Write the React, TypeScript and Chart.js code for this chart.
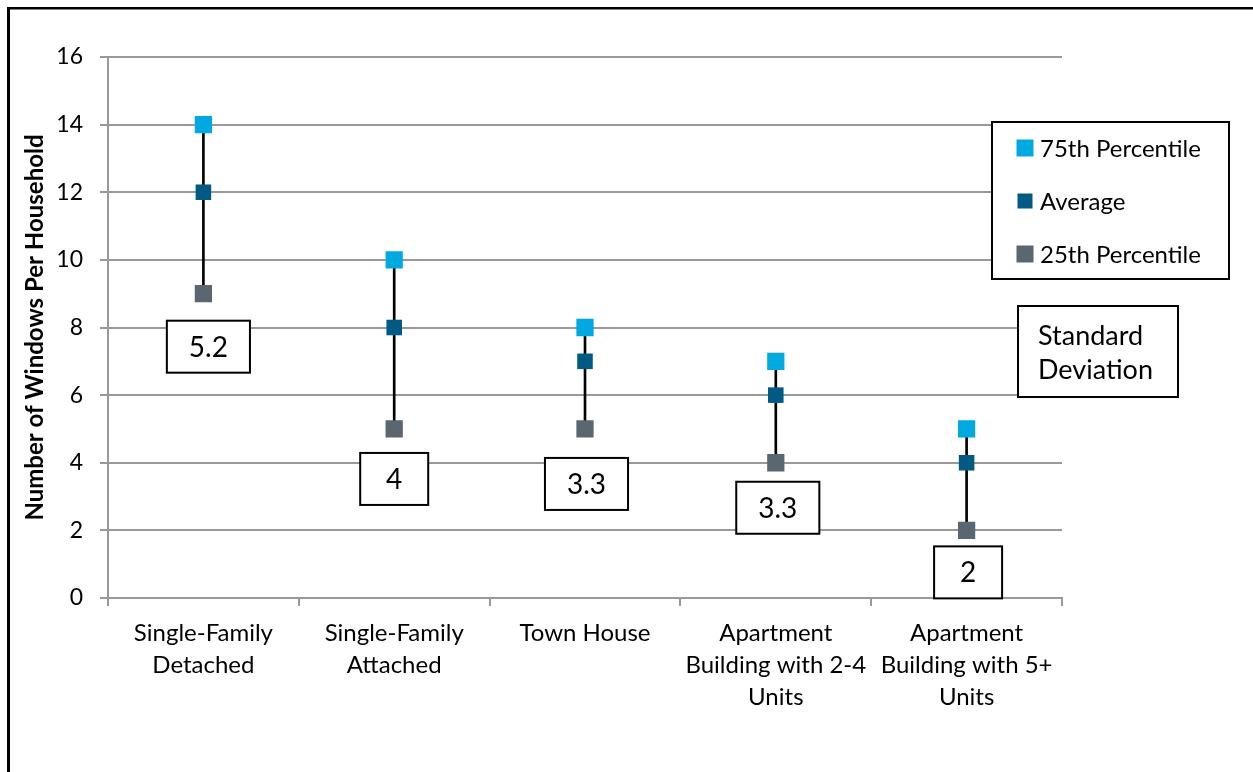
import React, { useEffect, useRef } from 'react';
import { Chart, registerables } from 'chart.js';

Chart.register(...registerables);

// ---- data ----
const categories: (string | string[])[] = [
  ['Single-Family', 'Detached'],
  ['Single-Family', 'Attached'],
  'Town House',
  ['Apartment', 'Building with 2-4', 'Units'],
  ['Apartment', 'Building with 5+', 'Units'],
];
const pct75 = [14, 10, 8, 7, 5];
const average = [12, 8, 7, 6, 4];
const pct25 = [9, 5, 5, 4, 2];
const stdDev = [5.2, 4, 3.3, 3.3, 2];
const seriesNames = ['75th Percentile', 'Average', '25th Percentile'];
const yTitle = 'Number of Windows Per Household';
const sdTitle = ['Standard', 'Deviation'];

// ---- style ----
const FONT = 'Lato';
const C75 = '#00A9E0';
const CAVG = '#005A84';
const C25 = '#5B6770';
const GRID = '#999999';

// layout offsets for the standard-deviation boxes (dx from category centre, gap below 25th marker)
const sdBoxDx = [5, 0, 1.5, 2, 1.5];
const sdBoxGap = [27, 24, 29, 19, 16];

const decorPlugin = {
  id: 'decor',
  beforeDraw(chart: any) {
    const ctx = chart.ctx;
    ctx.save();
    ctx.fillStyle = '#000';
    ctx.fillRect(7, 7, 3, chart.height - 7);
    ctx.fillRect(7, 7, chart.width - 7, 2.5);
    ctx.restore();
  },
  afterDraw(chart: any) {
    const ctx = chart.ctx;
    const xs = chart.scales.x;
    const ys = chart.scales.y;
    const area = chart.chartArea;
    ctx.save();
    // standard deviation boxes
    ctx.font = `28px ${FONT}`;
    ctx.textAlign = 'center';
    ctx.textBaseline = 'middle';
    stdDev.forEach((v, i) => {
      const label = String(v);
      const tw = ctx.measureText(label).width;
      const w = Math.max(68, tw + 44);
      const h = 52;
      const cx = xs.getPixelForValue(i) + sdBoxDx[i];
      const top = ys.getPixelForValue(pct25[i]) + sdBoxGap[i];
      ctx.fillStyle = '#fff';
      ctx.fillRect(cx - w / 2, top, w, h);
      ctx.strokeStyle = '#000';
      ctx.lineWidth = 2;
      ctx.strokeRect(cx - w / 2, top, w, h);
      ctx.fillStyle = '#000';
      ctx.fillText(label, cx, top + h / 2 + 1);
    });

    // legend
    const lx = area.right - 70;
    const ly = area.top + 65;
    const lw = 237;
    const lh = 157;
    ctx.fillStyle = '#fff';
    ctx.fillRect(lx, ly, lw, lh);
    ctx.strokeStyle = '#000';
    ctx.lineWidth = 2;
    ctx.strokeRect(lx, ly, lw, lh);
    ctx.font = `24px ${FONT}`;
    ctx.textAlign = 'left';
    ctx.textBaseline = 'middle';
    const pts = chart.data.datasets.filter((d: any) => d.type === 'line');
    pts.forEach((d: any, k: number) => {
      const cy = ly + 26 + k * 53;
      const s = k === 1 ? 15 : 17;
      ctx.fillStyle = d.backgroundColor;
      ctx.fillRect(lx + 33 - s / 2, cy - s / 2, s, s);
      ctx.fillStyle = '#000';
      ctx.fillText(d.label, lx + 48, cy + 1);
    });

    // standard deviation title box
    const bx = area.right - 44;
    const by = area.top + 249;
    ctx.fillStyle = '#fff';
    ctx.fillRect(bx, by, 160, 91);
    ctx.strokeRect(bx, by, 160, 91);
    ctx.font = `27px ${FONT}`;
    ctx.fillStyle = '#000';
    ctx.fillText(sdTitle[0], bx + 20, by + 30);
    ctx.fillText(sdTitle[1], bx + 20, by + 64);
    ctx.restore();
  },
};

export default function App() {
  const ref = useRef<HTMLCanvasElement | null>(null);
  useEffect(() => {
    if (!ref.current) return;
    const chart = new Chart(ref.current, {
      type: 'bar',
      data: {
        labels: categories,
        datasets: [
          {
            type: 'bar',
            label: 'range',
            data: pct25.map((v, i) => [v, pct75[i]]) as any,
            backgroundColor: '#000',
            barThickness: 2,
            order: 10,
          },
          {
            type: 'line',
            label: seriesNames[0],
            data: pct75,
            showLine: false,
            pointStyle: 'rect',
            pointRadius: 12.2,
            pointBorderWidth: 0,
            backgroundColor: C75,
            borderColor: C75,
            order: 1,
          },
          {
            type: 'line',
            label: seriesNames[1],
            data: average,
            showLine: false,
            pointStyle: 'rect',
            pointRadius: 11,
            pointBorderWidth: 0,
            backgroundColor: CAVG,
            borderColor: CAVG,
            order: 1,
          },
          {
            type: 'line',
            label: seriesNames[2],
            data: pct25,
            showLine: false,
            pointStyle: 'rect',
            pointRadius: 12.2,
            pointBorderWidth: 0,
            backgroundColor: C25,
            borderColor: C25,
            order: 1,
          },
        ] as any,
      },
      options: {
        responsive: false,
        animation: false,
        devicePixelRatio: 1,
        layout: { padding: { left: 0, top: 57, right: 191, bottom: 0 } },
        plugins: {
          legend: { display: false },
          tooltip: { enabled: false },
          title: { display: false },
        },
        scales: {
          x: {
            type: 'category',
            offset: true,
            grid: {
              offset: true,
              drawOnChartArea: false,
              drawTicks: true,
              tickLength: 8,
              color: GRID,
              lineWidth: 2,
            },
            border: { display: true, color: GRID, width: 2 },
            ticks: {
              color: '#000',
              font: { family: FONT, size: 24, lineHeight: 1.33 },
              padding: 11,
              maxRotation: 0,
              autoSkip: false,
            },
            afterFit: (s: any) => {
              s.height = 174;
            },
          },
          y: {
            min: 0,
            max: 16,
            ticks: {
              stepSize: 2,
              color: '#000',
              font: { family: FONT, size: 23 },
              padding: 17,
            },
            grid: { color: GRID, lineWidth: 2, tickLength: 8 },
            border: { display: true, color: GRID, width: 2 },
            title: {
              display: true,
              text: yTitle,
              color: '#000',
              font: { family: FONT, size: 24, weight: 'bold' },
              padding: { top: 21, bottom: 0 },
            },
            afterFit: (s: any) => {
              s.width = 108;
            },
          },
        },
      },
      plugins: [decorPlugin],
    });
    return () => chart.destroy();
  }, []);
  return (
    <div style={{ position: 'absolute', left: 0, top: 0, width: 1253, height: 772, background: '#fff' }}>
      <canvas ref={ref} width={1253} height={772} style={{ width: 1253, height: 772, display: 'block' }} />
    </div>
  );
}
